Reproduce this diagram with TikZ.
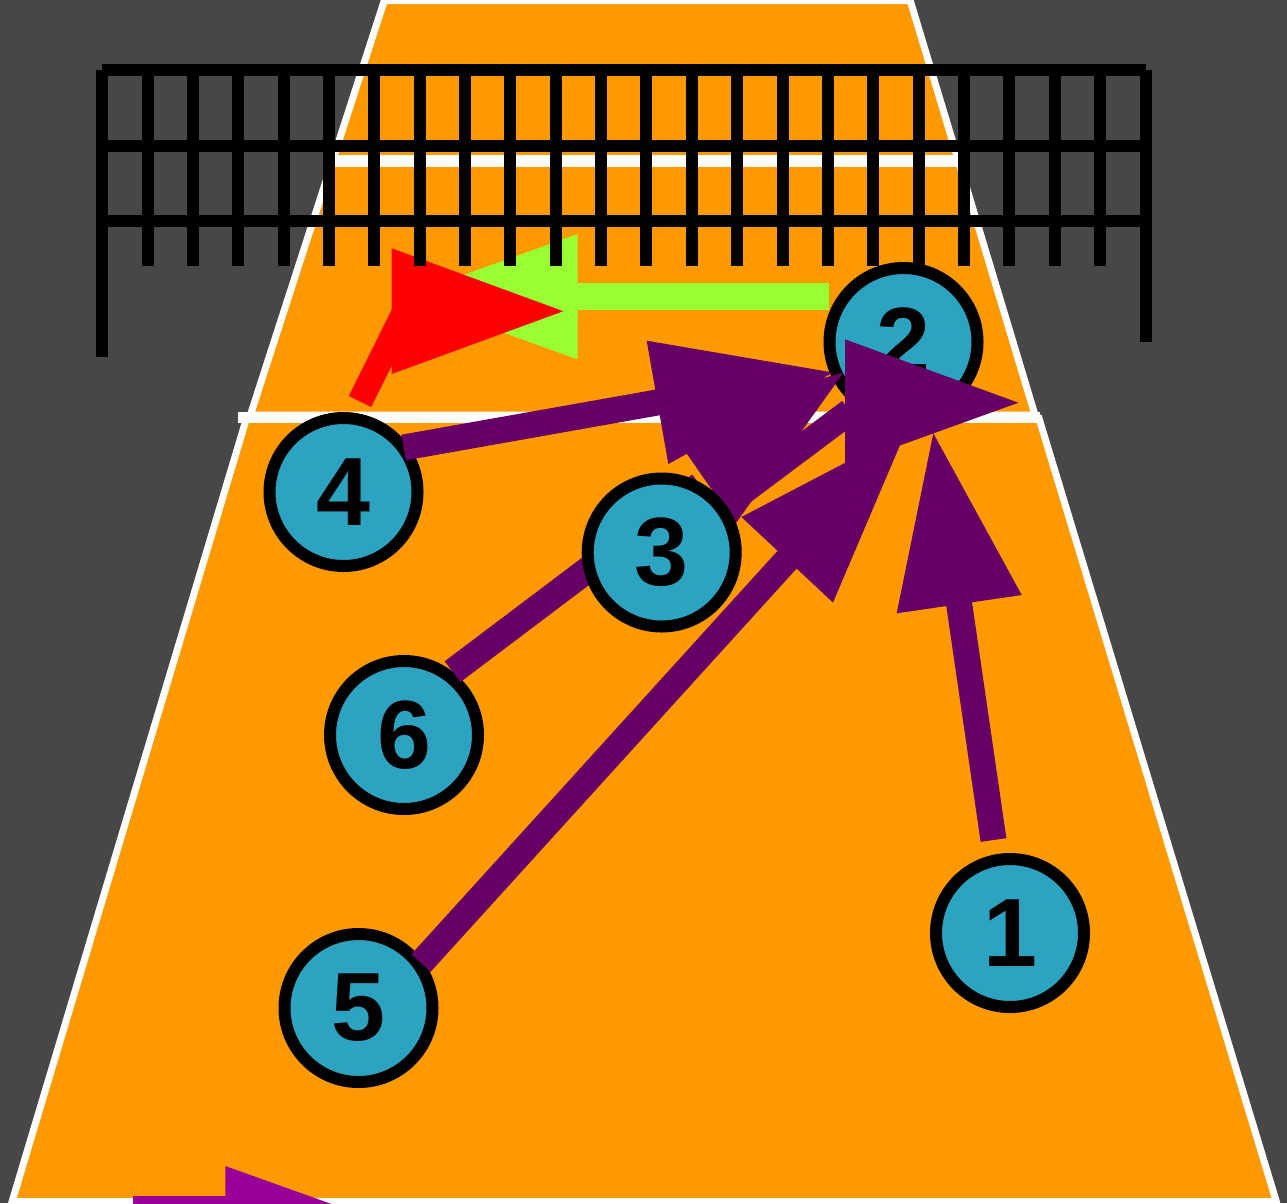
\documentclass[tikz,border=0pt]{standalone}
\usepackage{fontspec}
\setmainfont{Liberation Sans}
\definecolor{bgc}{HTML}{474747}
\definecolor{courtc}{HTML}{FF9900}
\definecolor{playerc}{HTML}{2CA3C0}
\definecolor{purp}{HTML}{660066}
\definecolor{purpb}{HTML}{990099}
\definecolor{limec}{HTML}{99FF33}
\definecolor{redc}{HTML}{FF0000}
\begin{document}
\begin{tikzpicture}[x=1pt,y=-1pt,
  player/.style={circle,draw=black,line width=12pt,fill=playerc,minimum size=148pt,inner sep=0pt,
    font=\fontsize{97}{97}\selectfont\bfseries},
  courtline/.style={draw=white,line width=7pt,line join=miter},
  netline/.style={draw=black,line width=12pt},
  shaft/.style={line width=26pt},
  ]
\useasboundingbox (0,0) rectangle (1287,1203);
\clip (0,0) rectangle (1287,1203);
\fill[bgc] (0,0) rectangle (1287,1203);

% court
\filldraw[fill=courtc,courtline] (384.3,0.5) -- (910.2,0.5) -- (1035,415) -- (250.4,415) -- cycle;
\filldraw[fill=courtc,courtline] (246.6,418) -- (1038.9,418) -- (1276.3,1201.5) -- (12.1,1201.5) -- cycle;
\draw[white,line width=11pt] (238,417.5) -- (1040,417.5);
\draw[white,line width=12pt] (332.5,161) -- (959.5,161);

% players (all but 3)
\node[player] (p1) at (1010,933) {1};
\node[player] (p2) at (903.5,342) {2};
\node[player] (p4) at (343.5,492) {4};
\node[player] (p5) at (358.5,1008) {5};
\node[player] (p6) at (404,735) {6};

% coordinates of arrows
\coordinate (s4) at (403.6,447.5);
\coordinate (hAb) at (660,402);
\coordinate (hA1) at (646.7,340.7);
\coordinate (hA2) at (668.3,464);
\coordinate (hAt) at (833,372.5);

\coordinate (s6) at (452.5,671.7);
\coordinate (e6) at (700,485);
\coordinate (hC1) at (664,421);
\coordinate (hC2) at (735.5,523.7);
\coordinate (hCt) at (843.5,372.6);

\coordinate (s3) at (661.7,552.5);
\coordinate (e3) at (850,411.3);
\coordinate (hB1) at (845,339.3);
\coordinate (hB2) at (845,465.3);
\coordinate (hBt) at (1018.3,402.7);

\coordinate (s5) at (421,963);
\coordinate (h5b) at (790,556.5);
\coordinate (h51) at (741.4,517);
\coordinate (h52) at (833,602.5);
\coordinate (h5t) at (906,431);

\coordinate (s1) at (993.5,840);
\coordinate (h1b) at (958.7,601);
\coordinate (h11) at (896.7,613.3);
\coordinate (h12) at (1021.7,595);
\coordinate (h1t) at (933.3,433.3);

\coordinate (sg) at (828.5,296.7);
\coordinate (hgb) at (572,296.7);
\coordinate (hg1) at (577.7,234);
\coordinate (hg2) at (577.7,359.3);
\coordinate (hgt) at (403,296.7);

\coordinate (sr) at (360,401.5);
\coordinate (er) at (407,307);
\coordinate (hr1) at (391.7,248.3);
\coordinate (hr2) at (391.7,374);
\coordinate (hrt) at (563.3,311.2);

\coordinate (sb) at (133,1209);
\coordinate (hbb) at (228,1209);
\coordinate (hb1) at (225.3,1166);
\coordinate (hb2) at (225.3,1291);
\coordinate (hbt) at (400,1228.5);

% purple arrows
\draw[shaft,purp] (s4) -- (hAb);
\fill[purp] (hA1) -- (hAt) -- (hA2) -- cycle;
\draw[shaft,purp] (s6) -- (e6);
\fill[purp] (hC1) -- (hCt) -- (hC2) -- cycle;
\draw[shaft,purp] (s3) -- (e3);
\draw[shaft,purp] (s5) -- (h5b);
\fill[purp] (h51) -- (h5t) -- (h52) -- cycle;
\draw[shaft,purp] (s1) -- (h1b);
\fill[purp] (h11) -- (h1t) -- (h12) -- cycle;
\fill[purp] (hB1) -- (hBt) -- (hB2) -- cycle;

% player 3 above the passing arrows
\node[player] (p3) at (661.7,552.5) {3};

% green and red arrows
\draw[line width=27pt,limec] (sg) -- (hgb);
\fill[limec] (hg1) -- (hgt) -- (hg2) -- cycle;
\draw[line width=25pt,redc] (sr) -- (er);
\fill[redc] (hr1) -- (hrt) -- (hr2) -- cycle;

% bottom arrow
\draw[shaft,purpb] (sb) -- (hbb);
\fill[purpb] (hb1) -- (hbt) -- (hb2) -- cycle;

% net
\draw[netline] (102,70) -- (1146,70);
\draw[netline] (102,70) -- (102,357);
\draw[netline] (1145.5,70) -- (1145.5,342);
\draw[netline] (102,145.5) -- (1145.5,145.5);
\draw[netline] (102,221) -- (1145.5,221);
\foreach \i in {0,...,21} {
  \draw[netline] ({147.5+45.357*\i},70) -- ({147.5+45.357*\i},266);
}
\end{tikzpicture}
\end{document}
